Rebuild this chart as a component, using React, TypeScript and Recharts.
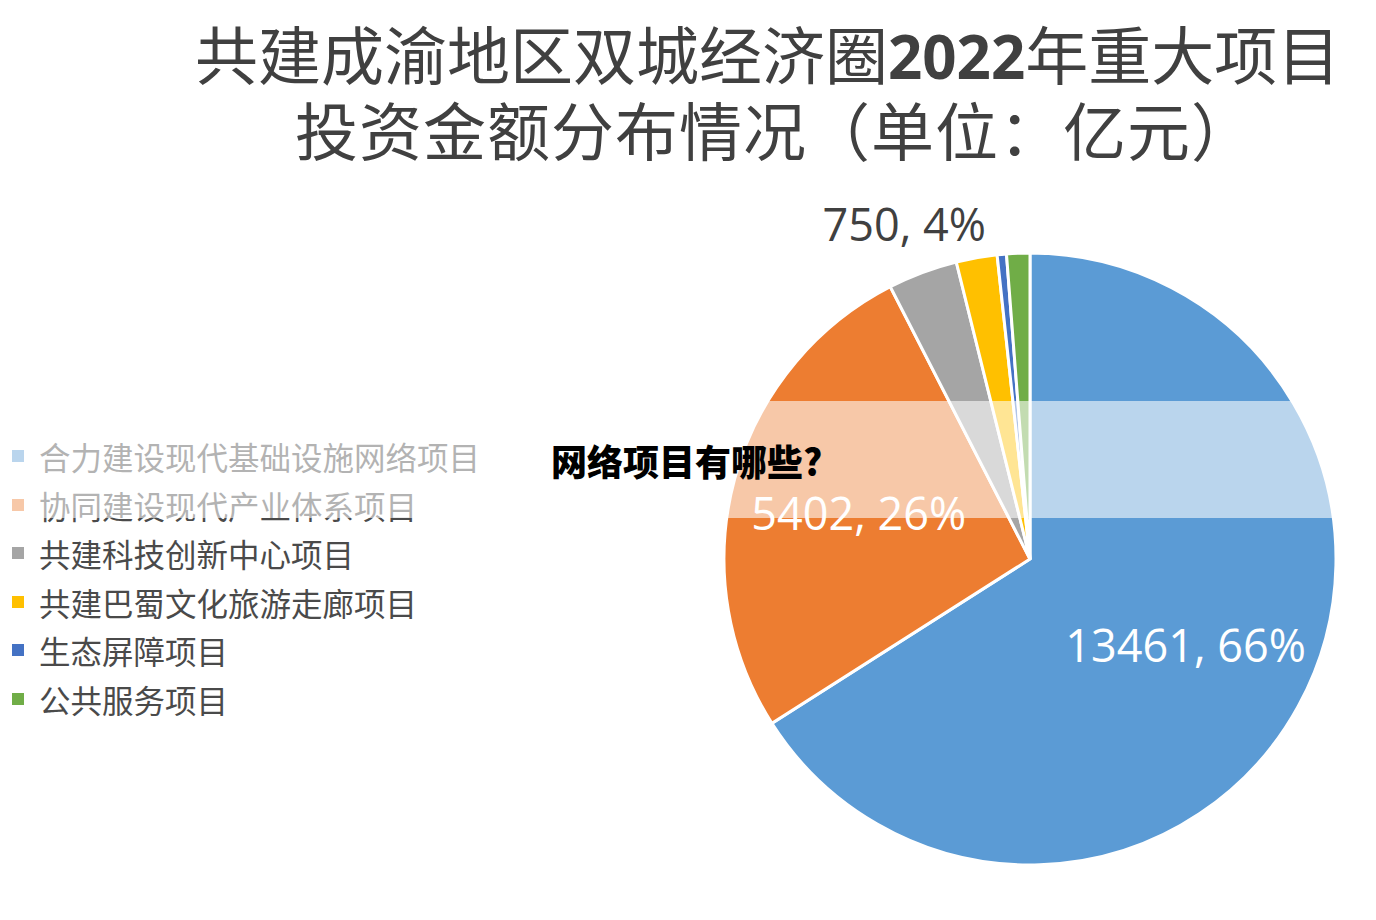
import { PieChart, Pie, Cell, Legend } from "recharts";

const categories = [
  "合力建设现代基础设施网络项目",
  "协同建设现代产业体系项目",
  "共建科技创新中心项目",
  "共建巴蜀文化旅游走廊项目",
  "生态屏障项目",
  "公共服务项目",
];
const amounts = [13461, 5402, 750, 440, 100, 250];
const sliceColors = ["#5B9BD5", "#ED7D31", "#A5A5A5", "#FFC000", "#4472C4", "#70AD47"];

const titleLine1a = "共建成渝地区双城经济圈";
const titleYear = "2022";
const titleLine1b = "年重大项目";
const titleLine2 = "投资金额分布情况（单位：亿元）";
const overlayText = "网络项目有哪些?";

const data = categories.map((name, i) => ({ name, value: amounts[i] }));

const RAD = Math.PI / 180;
const LABEL_FONT = "'Open Sans', 'Liberation Sans', sans-serif";
const CJK_FONT = "'Noto Sans CJK SC', 'Noto Sans', sans-serif";

function renderLabel(props: any) {
  const { cx, cy, midAngle, outerRadius, percent, value, index } = props;
  // only the three largest slices carry a label
  if (value < 700) return null;
  const inside = percent > 0.1;
  const r = inside ? outerRadius * 0.58 : outerRadius * 1.17;
  const x = cx + r * Math.cos(-midAngle * RAD);
  const y = cy + r * Math.sin(-midAngle * RAD);
  return (
    <text
      key={`lbl-${index}`}
      x={x}
      y={y}
      textAnchor="middle"
      dominantBaseline="central"
      fill={inside ? "#ffffff" : "#404040"}
      fontFamily={LABEL_FONT}
      fontSize={45}
    >
      {`${value}, ${Math.round(percent * 100)}%`}
    </text>
  );
}

function LegendContent({ payload }: any) {
  // keep the legend in data order
  const items = [...(payload ?? [])].sort(
    (a: any, b: any) => categories.indexOf(a.value) - categories.indexOf(b.value)
  );
  return (
    <div style={{ fontFamily: CJK_FONT }}>
      {items.map((p: any, i: number) => (
        <div key={i} style={{ display: "flex", alignItems: "center", height: 48.5 }}>
          <span
            style={{
              display: "inline-block",
              width: 12,
              height: 12,
              marginLeft: 12,
              marginRight: 15,
              background: p.color,
            }}
          />
          <span style={{ fontSize: 31.5, lineHeight: "40px", color: "#4a4a4a", whiteSpace: "nowrap" }}>
            {p.value}
          </span>
        </div>
      ))}
    </div>
  );
}

export default function App() {
  return (
    <div
      style={{
        position: "absolute",
        left: 0,
        top: 0,
        width: 1376,
        height: 920,
        background: "#ffffff",
        overflow: "hidden",
      }}
    >
      <div
        style={{
          position: "absolute",
          left: 195,
          top: 22,
          height: 60,
          lineHeight: "60px",
          fontSize: 63,
          fontFamily: CJK_FONT,
          color: "#404040",
          whiteSpace: "nowrap",
        }}
      >
        {titleLine1a}
        <span style={{ fontFamily: LABEL_FONT, fontWeight: 700, fontSize: 60 }}>{titleYear}</span>
        {titleLine1b}
      </div>
      <div
        style={{
          position: "absolute",
          left: 295,
          top: 98,
          height: 60,
          lineHeight: "60px",
          fontSize: 63,
          letterSpacing: 1,
          fontFamily: CJK_FONT,
          color: "#404040",
          whiteSpace: "nowrap",
        }}
      >
        {titleLine2}
      </div>

      <div style={{ position: "absolute", left: 0, top: 0 }}>
        <PieChart width={1376} height={920} margin={{ top: 0, right: 0, bottom: 0, left: 0 }}>
          <Pie
            data={data}
            dataKey="value"
            nameKey="name"
            cx={1030}
            cy={559}
            outerRadius={306}
            startAngle={90}
            endAngle={-270}
            stroke="#ffffff"
            strokeWidth={3}
            label={renderLabel}
            labelLine={false}
            isAnimationActive={false}
          >
            {data.map((_, i) => (
              <Cell key={i} fill={sliceColors[i]} />
            ))}
          </Pie>
          <Legend
            layout="vertical"
            align="center"
            verticalAlign="middle"
            content={<LegendContent />}
            wrapperStyle={{ left: 0, top: 432, width: 520 }}
          />
        </PieChart>
      </div>

      {/* translucent band with the headline on top of the chart */}
      <div
        style={{
          position: "absolute",
          left: 0,
          top: 401,
          width: 1376,
          height: 117,
          background: "rgba(255,255,255,0.58)",
        }}
      />
      <div
        style={{
          position: "absolute",
          left: 551,
          top: 437,
          height: 46,
          lineHeight: "46px",
          fontSize: 36,
          fontWeight: 900,
          fontFamily: CJK_FONT,
          color: "#000000",
          whiteSpace: "nowrap",
        }}
      >
        {overlayText}
      </div>
    </div>
  );
}
